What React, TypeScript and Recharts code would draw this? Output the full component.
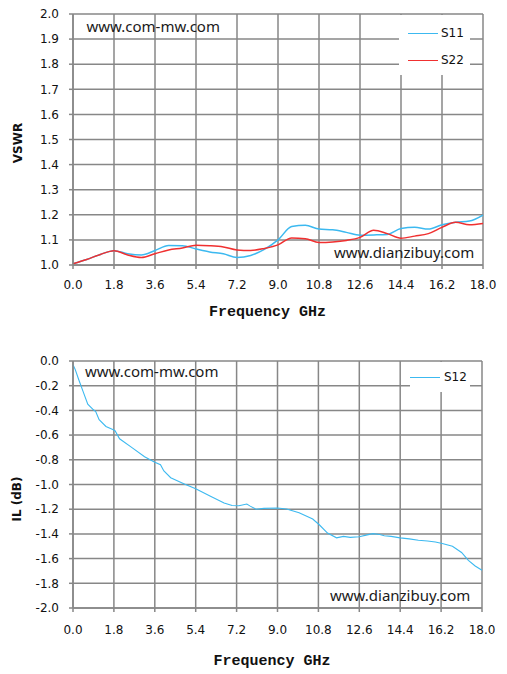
import { LineChart, Line, XAxis, YAxis, CartesianGrid, Legend } from "recharts";

// frequency ticks shared by both plots (GHz)
const freqTicks = [0, 1.8, 3.6, 5.4, 7.2, 9.0, 10.8, 12.6, 14.4, 16.2, 18.0];
const vswrTicks = [1.0, 1.1, 1.2, 1.3, 1.4, 1.5, 1.6, 1.7, 1.8, 1.9, 2.0];
const ilTicks = [-2.0, -1.8, -1.6, -1.4, -1.2, -1.0, -0.8, -0.6, -0.4, -0.2, 0.0];

// VSWR sweep
const freqVswr = [
  0, 0.6, 1.2, 1.8, 2.4, 3.0, 3.6, 4.2, 4.8, 5.4, 6.0, 6.6, 7.2, 7.8, 8.4, 9.0,
  9.6, 10.2, 10.8, 11.4, 12.0, 12.6, 13.2, 13.8, 14.4, 15.0, 15.6, 16.2, 16.8, 17.4, 18.0,
];
const s11 = [
  1.005, 1.022, 1.042, 1.057, 1.045, 1.04, 1.058, 1.078, 1.077, 1.064, 1.052, 1.045,
  1.03, 1.038, 1.062, 1.1, 1.153, 1.158, 1.143, 1.14, 1.13, 1.119, 1.12, 1.122, 1.145,
  1.15, 1.143, 1.16, 1.17, 1.175, 1.199,
];
const s22 = [
  1.005, 1.022, 1.042, 1.057, 1.04, 1.03, 1.045, 1.06, 1.068, 1.079, 1.077, 1.072,
  1.06, 1.058, 1.066, 1.08, 1.108, 1.105, 1.09, 1.092, 1.098, 1.11, 1.138, 1.125, 1.107,
  1.115, 1.125, 1.15, 1.17, 1.16, 1.165,
];

// insertion loss sweep
const freqIl = [
  0, 0.1, 0.25, 0.45, 0.65, 0.9, 1.0, 1.15, 1.45, 1.75, 1.85, 2.05, 2.55, 3.15, 3.6,
  3.85, 4.0, 4.3, 4.9, 5.4, 6.05, 6.65, 7.0, 7.3, 7.65, 7.8, 8.05, 8.4, 9.0, 9.4, 9.95,
  10.55, 10.85, 11.2, 11.6, 11.9, 12.2, 12.6, 12.9, 13.2, 13.5, 13.7, 14.0, 14.4, 14.8,
  15.2, 15.6, 15.95, 16.25, 16.7, 17.1, 17.4, 17.7, 18.0,
];
const s12 = [
  -0.03, -0.07, -0.15, -0.25, -0.35, -0.395, -0.41, -0.475, -0.53, -0.555, -0.565,
  -0.63, -0.695, -0.775, -0.82, -0.84, -0.89, -0.945, -0.995, -1.035, -1.095, -1.15,
  -1.17, -1.172, -1.158, -1.175, -1.2, -1.193, -1.19, -1.198, -1.228, -1.28, -1.328,
  -1.393, -1.432, -1.42, -1.428, -1.423, -1.41, -1.398, -1.405, -1.415, -1.42, -1.432,
  -1.44, -1.452, -1.458, -1.465, -1.478, -1.5, -1.55, -1.615, -1.66, -1.695,
];

const vswrRows = freqVswr.map((f, i) => ({ f, s11: s11[i], s22: s22[i] }));
const ilRows = freqIl.map((f, i) => ({ f, s12: s12[i] }));

const GRID = "#878787";
const BLUE = "#3cb9f0";
const RED = "#f03030";

const tickFont = { fill: "#111", fontSize: 12, fontFamily: "DejaVu Sans" };
const fmt = (v: number) => v.toFixed(1);

const watermark: React.CSSProperties = {
  position: "absolute",
  fontFamily: "Noto Sans",
  fontSize: 15,
  lineHeight: "15px",
  color: "#1a1a1a",
  whiteSpace: "nowrap",
  pointerEvents: "none",
};

function LegendBox({ payload, width, height, lineLeft, textLeft, firstRow, rowGap }: any) {
  return (
    <div style={{ position: "relative", width, height, background: "#fff" }}>
      {(payload || []).map((p: any, i: number) => {
        const cy = firstRow + i * rowGap;
        return (
          <div key={p.value}>
            <div
              style={{
                position: "absolute",
                left: lineLeft,
                top: cy - 0.75,
                width: 30,
                height: 1.5,
                background: p.color,
              }}
            />
            <div
              style={{
                position: "absolute",
                left: textLeft,
                top: cy - 7,
                lineHeight: "14px",
                fontSize: 12,
                fontFamily: "DejaVu Sans",
                color: "#111",
              }}
            >
              {p.value}
            </div>
          </div>
        );
      })}
    </div>
  );
}

const axisTitle = (x: number, y: number, text: string) => () =>
  (
    <text
      x={x}
      y={y}
      transform={`rotate(-90, ${x}, ${y})`}
      textAnchor="middle"
      fontFamily="DejaVu Sans"
      fontWeight="bold"
      fontSize={12}
      fill="#111"
    >
      {text}
    </text>
  );

const freqTitle = (x: number, y: number) => () =>
  (
    <text
      x={x}
      y={y}
      textAnchor="middle"
      fontFamily="Liberation Mono"
      fontWeight="bold"
      fontSize={15}
      fill="#111"
    >
      Frequency GHz
    </text>
  );

export default function App() {
  return (
    <div style={{ position: "absolute", left: 0, top: 0, width: 507, height: 674, background: "#fff" }}>
      {/* VSWR */}
      <div style={{ position: "absolute", left: 0, top: 0 }}>
        <LineChart width={507} height={337} data={vswrRows} margin={{ top: 14, right: 24, left: 13, bottom: 42 }}>
          <CartesianGrid stroke={GRID} strokeWidth={1.5} />
          <XAxis
            dataKey="f"
            type="number"
            domain={[0, 18]}
            ticks={freqTicks}
            tickFormatter={fmt}
            tick={tickFont}
            tickSize={4}
            tickMargin={11}
            height={30}
            stroke={GRID}
            strokeWidth={1.5}
            label={{ value: "Frequency GHz", content: freqTitle(267.5, 316) }}
          />
          <YAxis
            type="number"
            domain={[1, 2]}
            ticks={vswrTicks}
            tickFormatter={fmt}
            tick={tickFont}
            tickSize={4}
            tickMargin={10}
            width={60}
            stroke={GRID}
            strokeWidth={1.5}
            label={{ value: "VSWR", content: axisTitle(21.5, 143, "VSWR") }}
          />
          <Legend
            layout="vertical"
            align="center"
            verticalAlign="middle"
            wrapperStyle={{ left: 399, top: 15, width: 71, height: 60 }}
            content={(props: any) => (
              <LegendBox payload={props.payload} width={71} height={60} lineLeft={9} textLeft={42} firstRow={18.3} rowGap={27} />
            )}
          />
          <Line type="monotone" dataKey="s11" name="S11" stroke={BLUE} strokeWidth={1.5} dot={false} isAnimationActive={false} />
          <Line type="monotone" dataKey="s22" name="S22" stroke={RED} strokeWidth={1.5} dot={false} isAnimationActive={false} />
        </LineChart>
        <div style={{ ...watermark, left: 86.5, top: 19 }}>www.com-mw.com</div>
        <div style={{ ...watermark, left: 334, top: 244.5 }}>www.dianzibuy.com</div>
      </div>

      {/* insertion loss */}
      <div style={{ position: "absolute", left: 0, top: 347 }}>
        <LineChart width={507} height={327} data={ilRows} margin={{ top: 14, right: 25, left: 13, bottom: 36 }}>
          <CartesianGrid stroke={GRID} strokeWidth={1.5} />
          <XAxis
            dataKey="f"
            type="number"
            domain={[0, 18]}
            ticks={freqTicks}
            tickFormatter={fmt}
            tick={tickFont}
            tickSize={4}
            tickMargin={13}
            height={30}
            stroke={GRID}
            strokeWidth={1.5}
            label={{ value: "Frequency GHz", content: freqTitle(272, 318) }}
          />
          <YAxis
            type="number"
            domain={[-2, 0]}
            ticks={ilTicks}
            tickFormatter={fmt}
            tick={tickFont}
            tickSize={4}
            tickMargin={10}
            width={60}
            stroke={GRID}
            strokeWidth={1.5}
            label={{ value: "IL (dB)", content: axisTitle(21, 152, "IL (dB)") }}
          />
          <Legend
            layout="vertical"
            align="center"
            verticalAlign="middle"
            wrapperStyle={{ left: 410, top: 15, width: 60, height: 30 }}
            content={(props: any) => (
              <LegendBox payload={props.payload} width={60} height={30} lineLeft={0} textLeft={34} firstRow={15.3} rowGap={27} />
            )}
          />
          <Line type="linear" dataKey="s12" name="S12" stroke={BLUE} strokeWidth={1.1} dot={false} isAnimationActive={false} />
        </LineChart>
        <div style={{ ...watermark, left: 85, top: 16.7 }}>www.com-mw.com</div>
        <div style={{ ...watermark, left: 330, top: 240.7 }}>www.dianzibuy.com</div>
      </div>
    </div>
  );
}
